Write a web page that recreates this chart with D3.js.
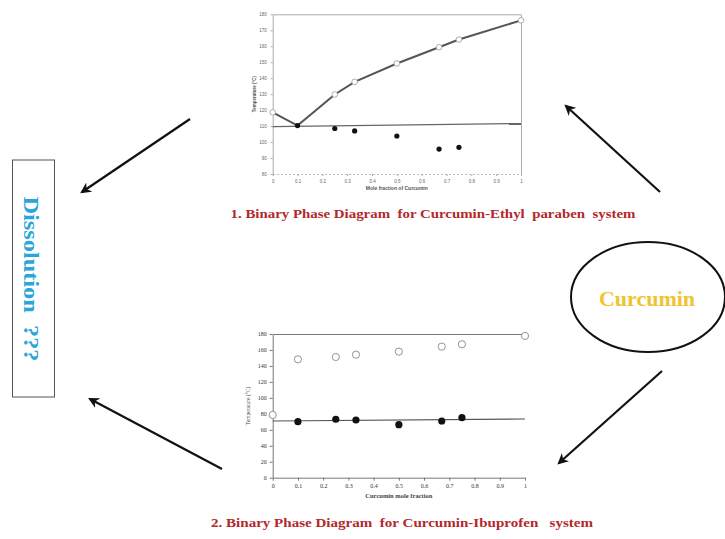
<!DOCTYPE html>
<html>
<head>
<meta charset="utf-8">
<script src="https://cdn.jsdelivr.net/npm/d3@7"></script>
<style>
  body { margin: 0; background: #fff; }
  svg { display: block; }
</style>
</head>
<body>
<svg id="chart"></svg>
<script>
const W = 725
const H = 539

/// data ////////////////////////////////
// chart 1: curcumin - ethyl paraben
const epX = [0, 0.1, 0.25, 0.33, 0.5, 0.67, 0.75, 1]
const epLiquidus = [118.6, 110.3, 129.8, 137.7, 149.2, 159.4, 164.2, 176.2]
const epSolidusX = [0.1, 0.25, 0.33, 0.5, 0.67, 0.75]
const epSolidus = [110.3, 108.5, 107, 103.8, 95.6, 96.7]
const epEutecticX = [0, 1]
const epEutectic = [109.7, 111.6]
const epYTicks = [80, 90, 100, 110, 120, 130, 140, 150, 160, 170, 180]

// chart 2: curcumin - ibuprofen
const ibX = [0, 0.1, 0.25, 0.33, 0.5, 0.67, 0.75, 1]
const ibLiquidus = [78.6, 148.3, 151.2, 154.1, 157.9, 164.2, 167.2, 177.6]
const ibSolidusX = [0.1, 0.25, 0.33, 0.5, 0.67, 0.75]
const ibSolidus = [70.2, 73.2, 72.3, 66.4, 71, 75.2]
const ibEutecticX = [0, 1]
const ibEutectic = [71, 73.5]
const ibYTicks = [0, 20, 40, 60, 80, 100, 120, 140, 160, 180]

const xTicks = [0, 0.1, 0.2, 0.3, 0.4, 0.5, 0.6, 0.7, 0.8, 0.9, 1]

const svg = d3.select('#chart')
  .attr('width', W)
  .attr('height', H)
  .attr('viewBox', [0, 0, W, H])

svg.append('rect').attr('width', W).attr('height', H).attr('fill', '#fff')

svg.append('defs')
  .append('marker')
  .attr('id', 'head')
  .attr('viewBox', '0 0 10 10')
  .attr('refX', 8)
  .attr('refY', 5)
  .attr('markerWidth', 5)
  .attr('markerHeight', 5)
  .attr('orient', 'auto')
  .append('path')
  .attr('d', 'M0,0 L10,5 L0,10 L3,5 Z')
  .attr('fill', '#111')

/// chart 1 ////////////////////////////////
const x1 = d3.scaleLinear().domain([0, 1]).range([272.7, 521])
const y1 = d3.scaleLinear().domain([80, 180]).range([174, 14.3])
const g1 = svg.append('g')

g1.append('g')
  .attr('transform', 'translate(0,' + y1(180) + ')')
  .call(d3.axisTop(x1).tickValues([]).tickSizeOuter(0))
  .call(g => g.select('.domain').attr('stroke', '#aaa'))
g1.append('g')
  .attr('transform', 'translate(' + x1(1) + ',0)')
  .call(d3.axisRight(y1).tickValues([]).tickSizeOuter(0))
  .call(g => g.select('.domain').attr('stroke', '#aaa'))

g1.append('g')
  .attr('transform', 'translate(' + x1(0) + ',0)')
  .call(d3.axisLeft(y1).tickValues(epYTicks).tickSize(2).tickSizeOuter(0).tickPadding(4))
  .call(g => g.select('.domain').attr('stroke', '#aaa'))
  .call(g => g.selectAll('line').attr('stroke', '#aaa'))
  .call(g => g.selectAll('text').attr('font-size', 4.5).attr('fill', '#666').attr('font-family', 'Liberation Sans'))

g1.append('g')
  .attr('transform', 'translate(0,' + y1(80) + ')')
  .call(d3.axisBottom(x1).tickValues(xTicks).tickSize(2).tickSizeOuter(0).tickPadding(4).tickFormat(d3.format('~g')))
  .call(g => g.select('.domain').attr('stroke', '#bbb').attr('stroke-dasharray', '2,2'))
  .call(g => g.selectAll('line').attr('stroke', '#aaa'))
  .call(g => g.selectAll('text').attr('font-size', 4.5).attr('fill', '#666').attr('font-family', 'Liberation Sans'))

g1.append('path')
  .datum(epEutecticX.map((d, i) => [d, epEutectic[i]]))
  .attr('d', d3.line().x(d => x1(d[0])).y(d => y1(d[1])))
  .attr('stroke', '#666')
  .attr('stroke-width', 1.2)
  .attr('fill', 'none')

g1.append('path')
  .datum(epX.map((d, i) => [d, epLiquidus[i]]))
  .attr('d', d3.line().x(d => x1(d[0])).y(d => y1(d[1])))
  .attr('stroke', '#555')
  .attr('stroke-width', 2)
  .attr('fill', 'none')

g1.selectAll('.open')
  .data(epX.map((d, i) => [d, epLiquidus[i]]).filter(d => d[0] !== 0.1))
  .enter()
  .append('circle')
  .attr('cx', d => x1(d[0]))
  .attr('cy', d => y1(d[1]))
  .attr('r', 2.8)
  .attr('fill', '#fff')
  .attr('stroke', '#999')
  .attr('stroke-width', 0.8)

g1.selectAll('.solid')
  .data(epSolidusX.map((d, i) => [d, epSolidus[i]]))
  .enter()
  .append('circle')
  .attr('cx', d => x1(d[0]))
  .attr('cy', d => y1(d[1]))
  .attr('r', 2.6)
  .attr('fill', '#111')

g1.append('text')
  .attr('x', x1(0.5))
  .attr('y', 190)
  .attr('text-anchor', 'middle')
  .attr('font-family', 'Liberation Sans')
  .attr('font-size', 5)
  .attr('font-weight', 'bold')
  .attr('fill', '#555')
  .text('Mole fraction of Curcumin')

g1.append('text')
  .attr('transform', 'translate(256,' + y1(130) + ') rotate(-90)')
  .attr('text-anchor', 'middle')
  .attr('font-family', 'Liberation Sans')
  .attr('font-size', 4.5)
  .attr('font-weight', 'bold')
  .attr('fill', '#555')
  .text('Temperature (°C)')

/// chart 2 ////////////////////////////////
const x2 = d3.scaleLinear().domain([0, 1]).range([272.7, 525])
const y2 = d3.scaleLinear().domain([0, 180]).range([477.7, 334])
const g2 = svg.append('g')

g2.append('g')
  .attr('transform', 'translate(0,' + y2(180) + ')')
  .call(d3.axisTop(x2).tickValues([]).tickSizeOuter(0))
  .call(g => g.select('.domain').attr('stroke', '#777'))

g2.append('g')
  .attr('transform', 'translate(' + x2(0) + ',0)')
  .call(d3.axisLeft(y2).tickValues(ibYTicks).tickSize(3).tickSizeOuter(0).tickPadding(3))
  .call(g => g.select('.domain').attr('stroke', '#777'))
  .call(g => g.selectAll('line').attr('stroke', '#777'))
  .call(g => g.selectAll('text').attr('font-size', 6).attr('fill', '#333').attr('font-family', 'Liberation Serif'))

g2.append('g')
  .attr('transform', 'translate(0,' + y2(0) + ')')
  .call(d3.axisBottom(x2).tickValues(xTicks).tickSize(3).tickSizeOuter(0).tickPadding(3).tickFormat(d3.format('~g')))
  .call(g => g.select('.domain').attr('stroke', '#777'))
  .call(g => g.selectAll('line').attr('stroke', '#777'))
  .call(g => g.selectAll('text').attr('font-size', 6).attr('fill', '#333').attr('font-family', 'Liberation Serif'))

g2.append('path')
  .datum(ibEutecticX.map((d, i) => [d, ibEutectic[i]]))
  .attr('d', d3.line().x(d => x2(d[0])).y(d => y2(d[1])))
  .attr('stroke', '#555')
  .attr('stroke-width', 1.2)
  .attr('fill', 'none')

g2.selectAll('.open')
  .data(ibX.map((d, i) => [d, ibLiquidus[i]]))
  .enter()
  .append('circle')
  .attr('cx', d => x2(d[0]))
  .attr('cy', d => y2(d[1]))
  .attr('r', 3.6)
  .attr('fill', '#fff')
  .attr('stroke', '#888')
  .attr('stroke-width', 0.9)

g2.selectAll('.solid')
  .data(ibSolidusX.map((d, i) => [d, ibSolidus[i]]))
  .enter()
  .append('circle')
  .attr('cx', d => x2(d[0]))
  .attr('cy', d => y2(d[1]))
  .attr('r', 3.6)
  .attr('fill', '#111')

g2.append('text')
  .attr('x', x2(0.5))
  .attr('y', 498)
  .attr('text-anchor', 'middle')
  .attr('font-family', 'Liberation Serif')
  .attr('font-size', 6.5)
  .attr('font-weight', 'bold')
  .attr('fill', '#444')
  .text('Curcumin mole fraction')

g2.append('text')
  .attr('transform', 'translate(250,' + y2(90) + ') rotate(-90)')
  .attr('text-anchor', 'middle')
  .attr('font-family', 'Liberation Serif')
  .attr('font-size', 5.5)
  .attr('fill', '#444')
  .text('Temperature (°C)')

/// captions ////////////////////////////////
svg.append('text')
  .attr('x', 433)
  .attr('y', 218)
  .attr('text-anchor', 'middle')
  .attr('font-family', 'Liberation Serif')
  .attr('font-weight', 'bold')
  .attr('font-size', 13.5)
  .attr('fill', '#b3282b')
  .attr('textLength', 405)
  .attr('lengthAdjust', 'spacingAndGlyphs')
  .style('white-space', 'pre')
  .text('1. Binary Phase Diagram  for Curcumin-Ethyl  paraben  system')

svg.append('text')
  .attr('x', 402)
  .attr('y', 527)
  .attr('text-anchor', 'middle')
  .attr('font-family', 'Liberation Serif')
  .attr('font-weight', 'bold')
  .attr('font-size', 13.5)
  .attr('fill', '#b3282b')
  .attr('textLength', 382)
  .attr('lengthAdjust', 'spacingAndGlyphs')
  .style('white-space', 'pre')
  .text('2. Binary Phase Diagram  for Curcumin-Ibuprofen   system')

/// dissolution box ////////////////////////////////
svg.append('rect')
  .attr('x', 12.5)
  .attr('y', 160)
  .attr('width', 42)
  .attr('height', 237)
  .attr('fill', '#fff')
  .attr('stroke', '#555')
  .attr('stroke-width', 1)

svg.append('text')
  .attr('transform', 'translate(24,279) rotate(90)')
  .attr('text-anchor', 'middle')
  .attr('font-family', 'Liberation Serif')
  .attr('font-weight', 'bold')
  .attr('font-size', 22)
  .attr('fill', '#2aa6d9')
  .attr('textLength', 165)
  .attr('lengthAdjust', 'spacingAndGlyphs')
  .style('white-space', 'pre')
  .text('Dissolution  ???')

/// curcumin ellipse ////////////////////////////////
svg.append('ellipse')
  .attr('cx', 648)
  .attr('cy', 297)
  .attr('rx', 77)
  .attr('ry', 55)
  .attr('fill', '#fff')
  .attr('stroke', '#111')
  .attr('stroke-width', 2)

svg.append('text')
  .attr('x', 647)
  .attr('y', 306)
  .attr('text-anchor', 'middle')
  .attr('font-family', 'Liberation Serif')
  .attr('font-weight', 'bold')
  .attr('font-size', 22)
  .attr('fill', '#eec430')
  .text('Curcumin')

/// arrows ////////////////////////////////
const arrows = [
  [190, 119, 82, 192],
  [660, 192, 566, 106],
  [222, 469, 90, 399],
  [662, 371, 559, 463]
]
svg.selectAll('.arrow')
  .data(arrows)
  .enter()
  .append('line')
  .attr('x1', d => d[0])
  .attr('y1', d => d[1])
  .attr('x2', d => d[2])
  .attr('y2', d => d[3])
  .attr('stroke', '#111')
  .attr('stroke-width', 2.2)
  .attr('marker-end', 'url(#head)')
</script>
</body>
</html>
